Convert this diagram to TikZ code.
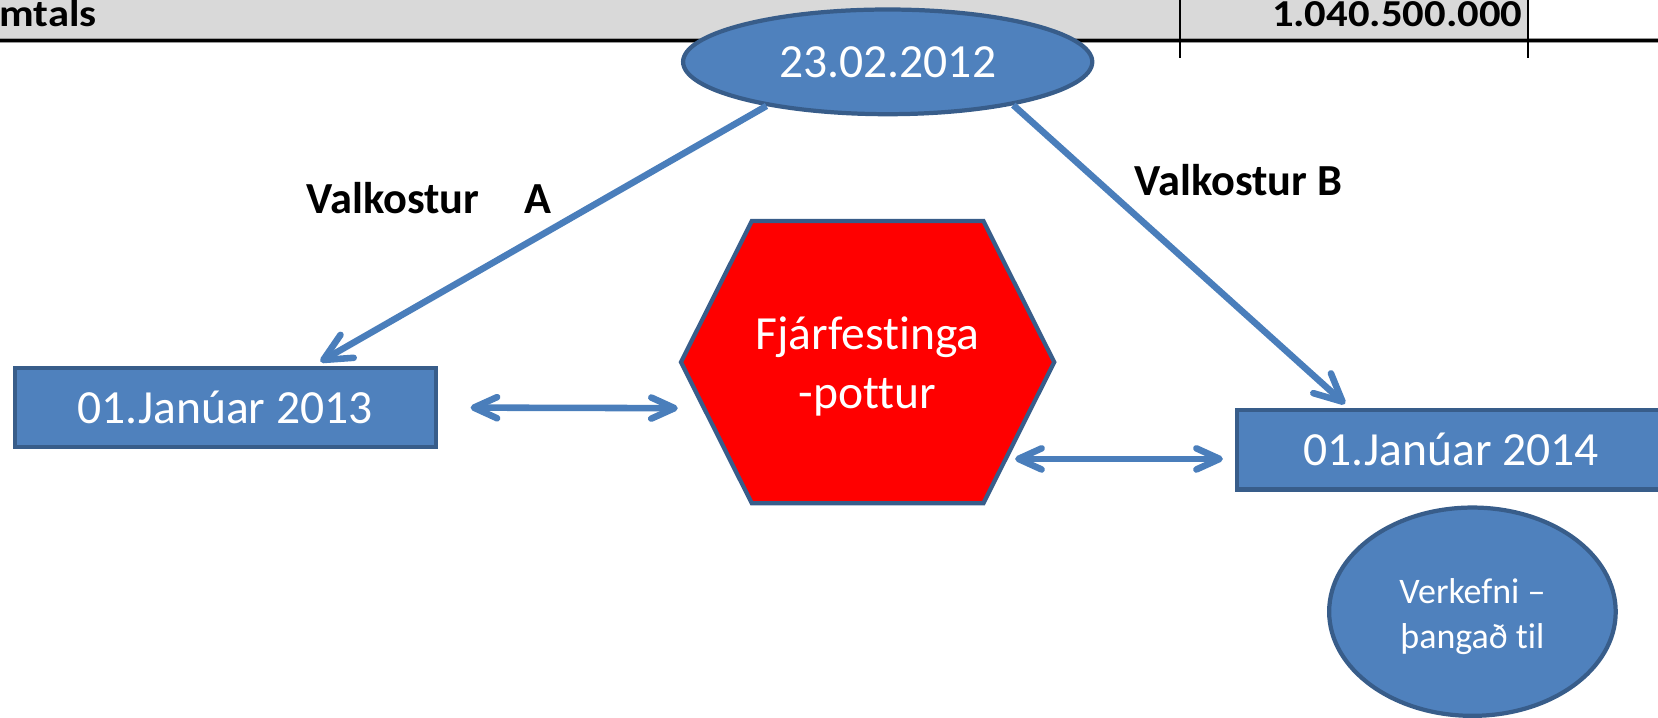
\documentclass[tikz,border=0pt]{standalone}
\usepackage{fontspec}
\setmainfont{Carlito}[Ligatures=NoCommon]
\newfontfamily\tablefont{Carlito}[Ligatures=NoCommon, FakeStretch=1.12]
\usetikzlibrary{arrows.meta,calc,shapes.geometric}
\definecolor{accfill}{HTML}{4F81BD}
\definecolor{accline}{HTML}{385D8A}
\definecolor{arrcol}{HTML}{4A7EBB}
\definecolor{tablegray}{HTML}{D9D9D9}
\begin{document}
\begin{tikzpicture}[x=0.5pt,y=-0.5pt,
  shapebox/.style={draw=accline, fill=accfill, line width=2pt, text=white, inner sep=0pt, font=\fontsize{22.5}{27.5}\selectfont},
  datebox/.style={shapebox, rectangle, minimum width=199pt, minimum height=37.5pt},
  dateoval/.style={shapebox, ellipse, minimum width=193.5pt, minimum height=49.5pt},
  taskoval/.style={shapebox, ellipse, minimum width=135.5pt, minimum height=98.5pt, align=center, text height=38pt, font=\fontsize{17}{21.5}\selectfont},
  flow/.style={draw=arrcol, line width=3.1pt, -{Straight Barb[length=13pt,width=12.5pt,round]}},
  link/.style={draw=arrcol, line width=3.1pt, {Straight Barb[length=11pt,width=10pt,round]}-{Straight Barb[length=11pt,width=10pt,round]}},
  choice/.style={font=\fontsize{21}{25}\selectfont\bfseries, anchor=base west, inner sep=0pt},
  tabletext/.style={font=\tablefont\fontsize{18}{22}\selectfont\bfseries, inner sep=0pt},
  hexshape/.style={draw=accline, fill=red, line width=2pt, line join=miter}
]
\useasboundingbox (0,0) rectangle (1568,679);
\clip (0,0) rectangle (1568,679);
% table fragment
\fill[tablegray] (0,0) rectangle (1445,37);
\draw[black!40, line width=2.6pt] (0,38.2) -- (1568,38.2);
\draw[black, line width=1.2pt] (0,38.5) -- (1568,38.5);
\draw[black, line width=1.1pt] (1116,0) -- (1116,55);
\draw[black, line width=1.1pt] (1445,0) -- (1445,55);
\node[tabletext, anchor=base west] (sum) at (-1,25.5) {mtals};
\node[tabletext, anchor=base east] (amount) at (1440,25.5) {1.040.500.000};
% shapes
\node[dateoval] (d12) at (839.5,58.5) {23.02.2012};
\node[datebox] (d13) at (213,385.5) {01.Janúar 2013};
\node[datebox, minimum width=203pt] (d14) at (1372.5,425.5) {01.Janúar 2014};
\coordinate (hTL) at (711,209);
\coordinate (hTR) at (930,209);
\coordinate (hR) at (997,342.5);
\coordinate (hBR) at (930,476);
\coordinate (hBL) at (711,476);
\coordinate (hL) at (644,342.5);
\draw[hexshape] (hTL) -- (hTR) -- (hR) -- (hBR) -- (hBL) -- (hL) -- cycle;
\node[text=white, font=\fontsize{22.5}{27.5}\selectfont, align=center, anchor=base, inner sep=0pt] (pot) at (820.5,386) {Fjárfestinga\\-pottur};
\node[taskoval] (task) at (1392.5,578.5) {Verkefni –\\þangað til};
% labels
\node[choice] (va) at (289.5,201.5) {Valkostur\hspace{21.5pt}A};
\node[choice] (vb) at (1072.5,184.5) {Valkostur B};
% connectors
\draw[flow] (d12.200) -- ($(d13.north)+(90,-4)$);
\draw[flow] (d12.341) -- ($(d14.north)+(-100.5,-4)$);
\draw[link] ($(d13.east)+(31,0)$) -- ($(hL)+(-3,43.5)$);
\draw[link] ($(hR)+(-37,91.5)$) -- ($(d14.west)+(-11,8.5)$);
\end{tikzpicture}
\end{document}
